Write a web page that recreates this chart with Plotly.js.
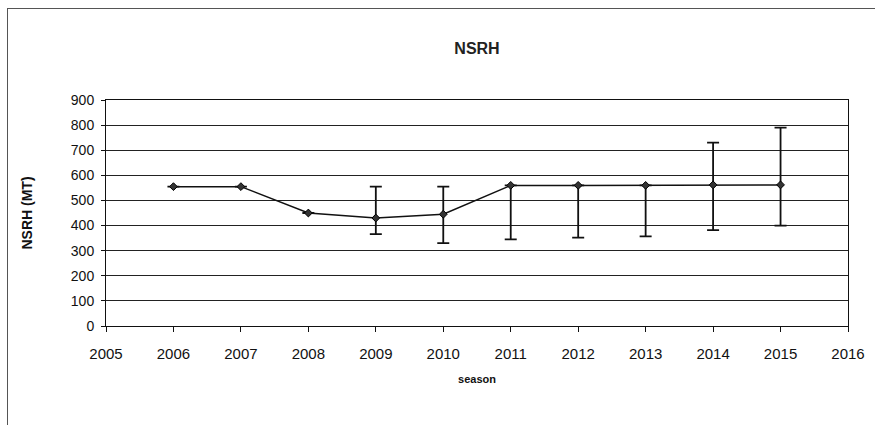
<!DOCTYPE html>
<html>
<head>
<meta charset="utf-8">
<script src="https://cdn.plot.ly/plotly-3.0.1.min.js"></script>
<style>
html,body{margin:0;padding:0;background:#fff;}
#frame{position:absolute;left:7px;top:8px;width:868px;height:417px;border-left:1px solid #555;border-top:1px solid #555;box-sizing:border-box;}
#chart{position:absolute;left:0;top:0;width:875px;height:425px;}
</style>
</head>
<body>
<div id="frame"></div>
<div id="chart"></div>
<script>
const seasons = [2006, 2007, 2008, 2009, 2010, 2011, 2012, 2013, 2014, 2015];
const nsrh = [555, 555, 450, 430, 445, 560, 560, 560, 562, 562];
const errUpper = [0, 0, 0, 125, 110, 0, 0, 0, 168, 228];
const errLower = [0, 0, 0, 64, 115, 215, 208, 203, 180, 162];
const xTicks = [2005, 2006, 2007, 2008, 2009, 2010, 2011, 2012, 2013, 2014, 2015, 2016];

const trace = {
  x: seasons,
  y: nsrh,
  type: 'scatter',
  mode: 'lines+markers',
  line: {color: '#111', width: 1.5},
  marker: {symbol: 'diamond', size: 6, color: '#333', line: {color: '#000', width: 1}},
  error_y: {
    type: 'data', symmetric: false,
    array: errUpper, arrayminus: errLower,
    color: '#111', thickness: 1.8, width: 6
  },
  showlegend: false,
  hoverinfo: 'x+y'
};

const layout = {
  width: 875, height: 425,
  paper_bgcolor: 'rgba(0,0,0,0)',
  plot_bgcolor: '#fff',
  margin: {l: 106, r: 27, t: 100, b: 99},
  font: {family: 'Liberation Sans, Arial, sans-serif', color: '#111'},
  title: {text: '<b>NSRH</b>', x: 0.5, xref: 'paper', y: 0.9, yref: 'container', font: {size: 16, color: '#222'}},
  xaxis: {
    range: [2005, 2016], tickmode: 'array', tickvals: xTicks, ticktext: xTicks.map(String),
    ticks: 'outside', ticklen: 5, tickcolor: '#111', tickfont: {size: 15},
    ticklabelstandoff: 9,
    showgrid: false, zeroline: false, showline: true, linecolor: '#111', linewidth: 1, mirror: true,
    title: {text: '<b>season</b>', font: {size: 11}, standoff: 14}
  },
  yaxis: {
    range: [0, 900], tickmode: 'linear', tick0: 0, dtick: 100,
    ticks: 'outside', ticklen: 4, tickcolor: '#111', tickfont: {size: 14},
    ticklabelstandoff: 4,
    showgrid: true, gridcolor: '#222', gridwidth: 1.2, zeroline: false,
    showline: true, linecolor: '#111', linewidth: 1, mirror: true,
    title: {text: '<b>NSRH (MT)</b>', font: {size: 14}, standoff: 34}
  }
};

Plotly.newPlot('chart', [trace], layout, {displayModeBar: false, staticPlot: true});
</script>
</body>
</html>
